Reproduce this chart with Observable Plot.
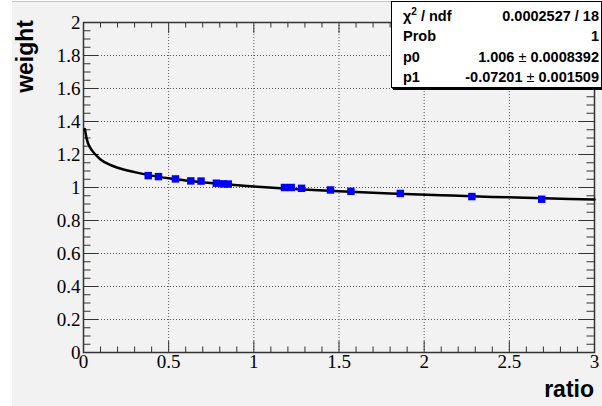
<!DOCTYPE html>
<html>
<head>
<meta charset="utf-8">
<script src="https://cdn.jsdelivr.net/npm/d3@7"></script>
<script src="https://cdn.jsdelivr.net/npm/@observablehq/plot@0.6"></script>
<style>
  html, body { margin: 0; padding: 0; background: #ffffff; }
  #wrap { position: relative; width: 602px; height: 406px; overflow: hidden; }
  #panel { position: absolute; left: 12px; top: 1px; right: 0; bottom: 0; background: #f2f2f2; border-top: 1px solid #c4c4c4; }
  #chart { position: absolute; left: 0; top: 0; }
  #chart svg text { font-family: "Liberation Serif", "Times New Roman", serif !important; }
  .title { position: absolute; font-family: "Liberation Sans", Arial, sans-serif; font-weight: bold; font-size: 23px; color: #000; white-space: nowrap; }
  #ytitle { left: 25px; top: 20px; transform-origin: 0 0; transform: rotate(-90deg) translate(-100%, -50%); line-height: 23px; }
  #xtitle { right: 8px; top: 378px; line-height: 23px; }
  #stats { position: absolute; left: 391px; top: 1px; width: 209px; height: 85px; background: #fff; border: 1px solid #000; box-shadow: 2px 2px 0 #000; font-family: "Liberation Sans", Arial, sans-serif; font-weight: bold; font-size: 14.5px; color: #000; }
  #stats .row { position: absolute; left: 11px; right: 2px; height: 20px; line-height: 20px; }
  #stats .k { position: absolute; left: 0; }
  #stats .v { position: absolute; right: 0; }
  #stats .pm { font-weight: normal; }
</style>
</head>
<body>
<div id="wrap">
  <div id="panel"></div>
  <div id="chart"></div>
  <div id="ytitle" class="title">weight</div>
  <div id="xtitle" class="title">ratio</div>
  <div id="stats"></div>
</div>
<script>
const ratio  = [0.38, 0.44, 0.54, 0.63, 0.69, 0.78, 0.82, 0.85, 1.18, 1.22, 1.28, 1.45, 1.57, 1.86, 2.28, 2.69];
const weight = [1.072, 1.066, 1.052, 1.040, 1.039, 1.026, 1.022, 1.021, 1.000, 1.000, 0.995, 0.985, 0.977, 0.964, 0.945, 0.929];

// fitted curve
const curveX = [0.008, 0.02, 0.04, 0.07, 0.1, 0.15, 0.2, 0.3, 0.4, 0.5, 0.6, 0.8, 1.0, 1.2, 1.5, 1.8, 2.1, 2.4, 2.7, 3.0];
const curveY = [1.355, 1.29, 1.24, 1.20, 1.17, 1.14, 1.12, 1.093, 1.072, 1.056, 1.043, 1.022, 1.006, 0.993, 0.977, 0.964, 0.953, 0.943, 0.935, 0.927];

// axis ticks
const xTicks = [0, 0.5, 1, 1.5, 2, 2.5, 3];
const yTicks = [0, 0.2, 0.4, 0.6, 0.8, 1, 1.2, 1.4, 1.6, 1.8, 2];

// stats box
const statKeys = ["χ² / ndf", "Prob", "p0", "p1"];
const statVals = [["0.0002527 / 18"], ["1"], ["1.006", "0.0008392"], ["-0.07201", "0.001509"]];

const points = ratio.map((r, i) => ({ratio: r, weight: weight[i]}));
const curve = curveX.map((x, i) => ({x, y: curveY[i]}));

const W = 602, H = 406, mL = 83, mR = 8, mT = 22, mB = 54;
const fw = W - mL - mR, fh = H - mT - mB;

const xMinor = d3.range(0, 31).map(i => i / 10).filter(v => !xTicks.some(t => Math.abs(t - v) < 1e-9));
const yMinor = d3.range(0, 41).map(i => i / 20).filter(v => !yTicks.some(t => Math.abs(t - v) < 1e-9));
const tickColor = "#333";

const chart = Plot.plot({
  width: W, height: H,
  marginLeft: mL, marginRight: mR, marginTop: mT, marginBottom: mB,
  x: {domain: [0, 3]},
  y: {domain: [0, 2]},
  style: {background: "transparent", overflow: "visible", fontFamily: "Liberation Serif, serif"},
  marks: [
    Plot.gridX(xTicks.slice(1, -1), {stroke: "#555", strokeOpacity: 1, strokeDasharray: "1,2"}),
    Plot.gridY(yTicks.slice(1, -1), {stroke: "#555", strokeOpacity: 1, strokeDasharray: "1,2"}),
    // bottom ticks
    Plot.ruleX(xMinor, {stroke: tickColor, insetTop: fh - 5.5}),
    Plot.ruleX(xTicks, {stroke: tickColor, insetTop: fh - 11}),
    // top ticks
    Plot.ruleX(xMinor, {stroke: tickColor, insetBottom: fh - 5.5}),
    Plot.ruleX(xTicks, {stroke: tickColor, insetBottom: fh - 11}),
    // left ticks
    Plot.ruleY(yMinor, {stroke: tickColor, insetRight: fw - 7.5}),
    Plot.ruleY(yTicks, {stroke: tickColor, insetRight: fw - 15}),
    // right ticks
    Plot.ruleY(yMinor, {stroke: tickColor, insetLeft: fw - 7.5}),
    Plot.ruleY(yTicks, {stroke: tickColor, insetLeft: fw - 15}),
    Plot.frame({stroke: "#333", strokeWidth: 1.5}),
    Plot.line(curve, {x: "x", y: "y", stroke: "#000", strokeWidth: 2.5, curve: "monotone-x"}),
    Plot.dot(points, {x: "ratio", y: "weight", symbol: "square", r: 4.2, fill: "#0000ff", stroke: "none"}),
    Plot.axisX(xTicks, {anchor: "bottom", tickSize: 0, tickPadding: 2, tickFormat: d => String(d), fontSize: 19, fill: "#000", label: null}),
    Plot.axisY(yTicks, {anchor: "left", tickSize: 0, tickPadding: 3, tickFormat: d => String(d), fontSize: 19, fill: "#000", label: null})
  ]
});
document.getElementById("chart").appendChild(chart);

const stats = document.getElementById("stats");
statKeys.forEach((k, i) => {
  const row = document.createElement("div");
  row.className = "row";
  row.style.top = (4 + i * 20.3) + "px";
  const kd = document.createElement("span");
  kd.className = "k";
  if (k.startsWith("χ²")) {
    kd.innerHTML = "χ<sup style='font-size:10px;vertical-align:0;position:relative;top:-6px'>2</sup> / ndf";
  } else kd.textContent = k;
  const vd = document.createElement("span");
  vd.className = "v";
  const v = statVals[i];
  if (v.length === 2) {
    vd.innerHTML = v[0] + " <span class='pm'>±</span> " + v[1];
  } else vd.textContent = v[0];
  row.appendChild(kd);
  row.appendChild(vd);
  stats.appendChild(row);
});
</script>
</body>
</html>
